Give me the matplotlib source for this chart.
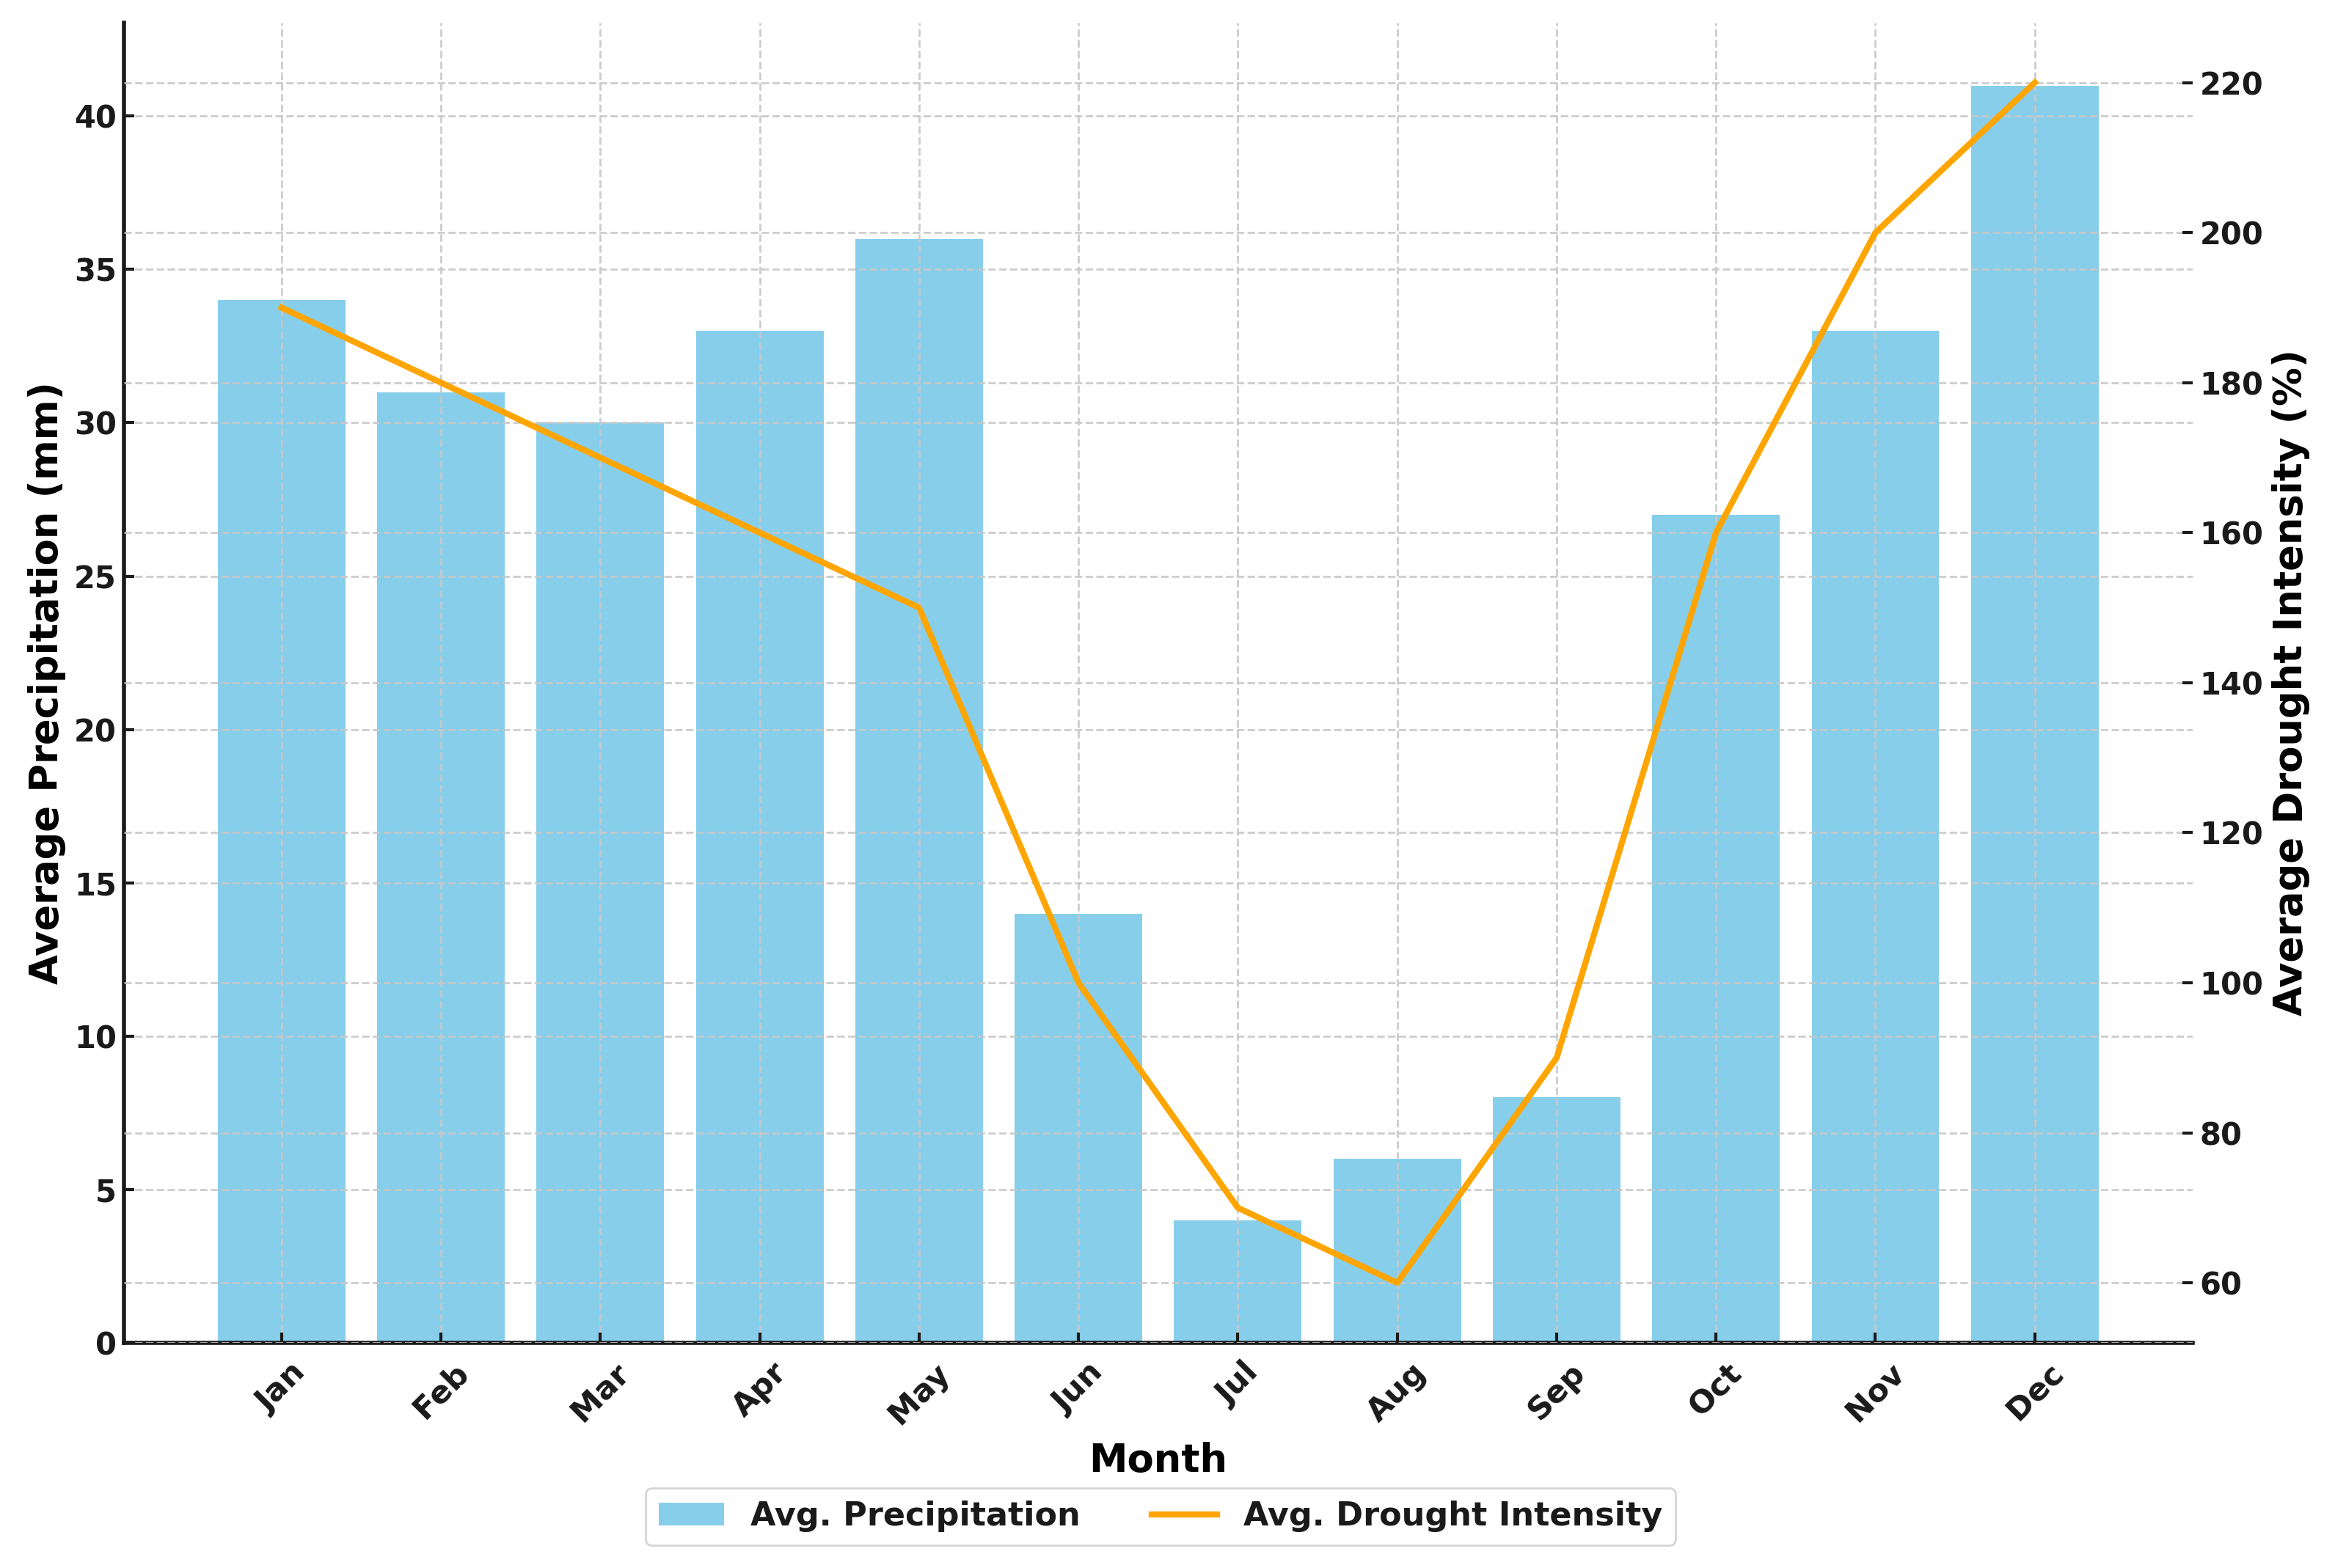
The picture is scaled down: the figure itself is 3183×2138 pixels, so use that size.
import numpy as np
import matplotlib
matplotlib.use("Agg")
import matplotlib.pyplot as plt

months = ["Jan", "Feb", "Mar", "Apr", "May", "Jun", "Jul", "Aug", "Sep", "Oct", "Nov", "Dec"]
precip = [34, 31, 30, 33, 36, 14, 4, 6, 8, 27, 33, 41]
drought = [190, 180, 170, 160, 150, 100, 70, 60, 90, 160, 200, 220]

plt.rcParams["font.family"] = "DejaVu Sans"
plt.rcParams["font.weight"] = "bold"
plt.rcParams["axes.labelweight"] = "bold"
plt.rcParams["text.color"] = "#1a1a1a"

fig = plt.figure(figsize=(15.915, 10.69), dpi=200)
ax1 = fig.add_axes([0.053, 0.1436, 0.886, 0.842])
x = np.arange(len(months))

bars = ax1.bar(x, precip, color="#87CEEB", width=0.8, label="Avg. Precipitation")
ax1.set_xticks(x)
ax1.set_xticklabels(months, rotation=45, fontsize=15.5, fontweight="bold")
ax1.set_xlabel("Month", fontsize=19, fontweight="bold", labelpad=6)
ax1.set_ylabel("Average Precipitation (mm)", fontsize=19, fontweight="bold")
ax1.tick_params(axis="both", direction="in", length=5, width=1.5, labelsize=15, colors="#1a1a1a")
ax1.tick_params(axis="x", pad=7, labelsize=15.5)
ax1.set_axisbelow(False)
ax1.grid(True, linestyle="--", color="#c8c8c8", linewidth=1.0, alpha=0.9)

ax2 = ax1.twinx()
line, = ax2.plot(x, drought, color="#FFA500", linewidth=3, label="Avg. Drought Intensity")
ax2.set_ylabel("Average Drought Intensity (%)", fontsize=19, fontweight="bold")
ax2.tick_params(axis="y", direction="in", length=5, width=1.5, labelsize=15, colors="#1a1a1a")
ax2.grid(True, axis="y", linestyle="--", color="#c8c8c8", linewidth=1.0, alpha=0.9)

for ax in (ax1, ax2):
    ax.spines["top"].set_visible(False)
    ax.spines["right"].set_visible(False)
ax2.spines["left"].set_visible(False)
ax2.spines["bottom"].set_visible(False)
ax1.spines["left"].set_linewidth(2)
ax1.spines["bottom"].set_linewidth(2)
ax1.spines["left"].set_color("#1a1a1a")
ax1.spines["bottom"].set_color("#1a1a1a")

for lab in ax1.get_yticklabels() + ax2.get_yticklabels():
    lab.set_fontweight("bold")

fig.legend([bars, line], ["Avg. Precipitation", "Avg. Drought Intensity"],
           loc="lower center", bbox_to_anchor=(0.497, 0.004), ncol=2,
           prop={"size": 16, "weight": "bold"}, frameon=True, edgecolor="#cccccc",
           handlelength=2.0, columnspacing=2.2)

fig.savefig("out.png", dpi=200)
